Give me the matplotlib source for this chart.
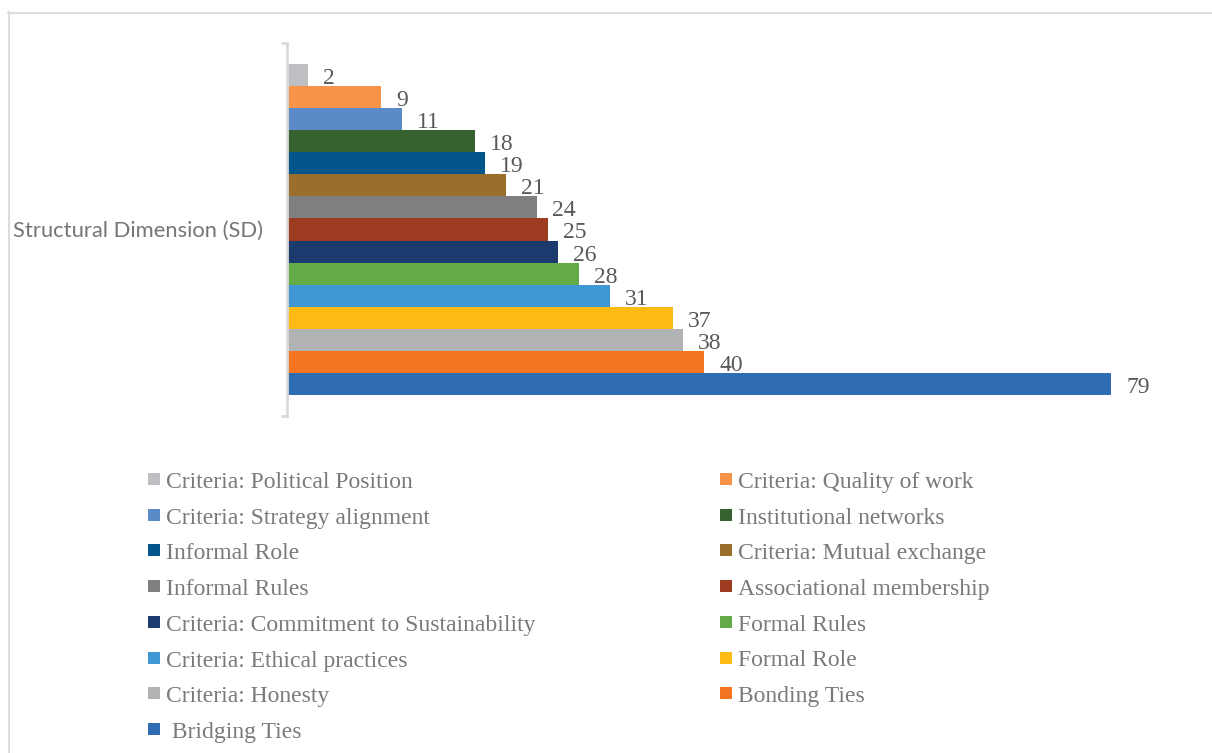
import matplotlib
matplotlib.use("Agg")
import matplotlib.pyplot as plt
from matplotlib.patches import Rectangle
from matplotlib.lines import Line2D

# Items of the structural dimension, top bar first
labels = [
    "Criteria: Political Position",
    "Criteria: Quality of work",
    "Criteria: Strategy alignment",
    "Institutional networks",
    "Informal Role",
    "Criteria: Mutual exchange",
    "Informal Rules",
    "Associational membership",
    "Criteria: Commitment to Sustainability",
    "Formal Rules",
    "Criteria: Ethical practices",
    "Formal Role",
    "Criteria: Honesty",
    "Bonding Ties",
    " Bridging Ties",
]
values = [2, 9, 11, 18, 19, 21, 24, 25, 26, 28, 31, 37, 38, 40, 79]
colors = [
    "#BEBFC3", "#F79449", "#5B8AC8", "#36622F", "#02568C",
    "#9A6E2B", "#7F7F7F", "#9D3B20", "#1B3B6F", "#63AB46",
    "#3F98D4", "#FDBA15", "#B1B2B4", "#F37421", "#2E6DB4",
]
category = "Structural Dimension (SD)"

W, H = 1212, 753
fig = plt.figure(figsize=(W / 100, H / 100), dpi=100)
fig.patch.set_facecolor("white")

def fx(px):
    return px / W

def fy(py):
    return 1 - py / H

# chart border (runs off the right and bottom edges)
border = "#D9D9D9"
fig.add_artist(Line2D([fx(8), fx(W + 5)], [fy(12.5), fy(12.5)], color=border, lw=1.3,
                      transform=fig.transFigure))
fig.add_artist(Line2D([fx(8.5), fx(8.5)], [fy(12), fy(H + 5)], color=border, lw=1.3,
                      transform=fig.transFigure))

# plot area
left, right, top, bottom = 287, 1180, 43, 416
ax = fig.add_axes([fx(left), fy(bottom), fx(right) - fx(left), fy(top) - fy(bottom)])

n = len(values)
pos = list(range(n))
ax.barh(pos, values, height=1.0, color=colors, edgecolor="none")

bar_px = 22.2
margin = 21 / bar_px
ax.set_ylim(n - 0.5 + margin, -0.5 - margin)
ax.set_xlim(0, 79 * (right - left) / (1111 - left))

for p, v in zip(pos, values):
    ax.annotate(str(v), xy=(v, p), xytext=(15, -9), textcoords="offset pixels",
                ha="left", va="baseline", fontsize=17, color="#595959",
                family="Liberation Serif")

for s in ("top", "right", "bottom"):
    ax.spines[s].set_visible(False)
ax.spines["left"].set_color(border)
ax.spines["left"].set_linewidth(2)
ax.set_xticks([])
ax.set_yticks(list(ax.get_ylim()))
ax.set_yticklabels(["", ""])
ax.tick_params(axis="y", length=4, width=2, color=border, direction="out")
ax.patch.set_alpha(0)

ax.text(-24 / (right - left), 0.5 - 1.5 / (bottom - top), category, transform=ax.transAxes,
        ha="right", va="center", fontsize=15.8, color="#767676", family="Lato")

# legend laid out row by row in two columns
row0, step = 479, 35.7
col_x = [148, 720]
sq = 12
for i, (lab, c) in enumerate(zip(labels, colors)):
    r, col = divmod(i, 2)
    yc = row0 + r * step
    x0 = col_x[col]
    fig.add_artist(Rectangle((fx(x0), fy(yc + sq / 2)), sq / W, sq / H,
                             facecolor=c, edgecolor="none", transform=fig.transFigure))
    fig.text(fx(x0 + sq + 6), fy(yc + 9), lab, ha="left", va="baseline", fontsize=17,
             color="#7A7A7A", family="Liberation Serif")

fig.savefig("out.png", dpi=100)
